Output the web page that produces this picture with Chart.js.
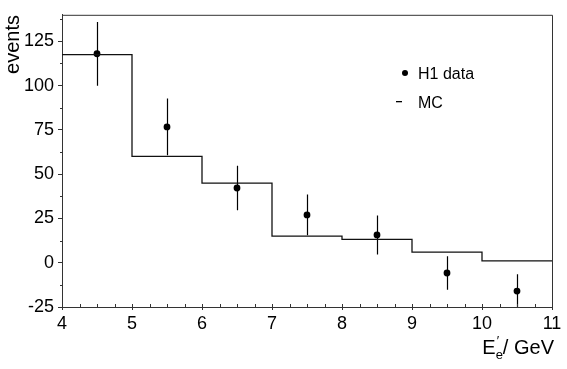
<!DOCTYPE html>
<html>
<head>
<meta charset="utf-8">
<script src="https://cdn.jsdelivr.net/npm/chart.js@4/dist/chart.umd.min.js"></script>
<style>
  html, body { margin: 0; padding: 0; background: #fff; }
  #plot { display: block; }
</style>
</head>
<body>
<canvas id="plot" width="567" height="369"></canvas>
<script>
// H1 data points (bin centres, values, errors)
const dataX = [4.5, 5.5, 6.5, 7.5, 8.5, 9.5, 10.5];
const dataY = [118, 76.7, 42.2, 27, 15.7, -5.8, -16];
const dataErr = [18, 16, 12.5, 11.5, 11, 9.5, 9.5];

// MC histogram (bin edges and contents)
const mcEdges = [4, 5, 6, 7, 8, 9, 10, 11];
const mcY = [117.5, 60, 45, 15, 13.2, 6, 1];

const yTicks = [-25, 0, 25, 50, 75, 100, 125];
const xTicks = [4, 5, 6, 7, 8, 9, 10, 11];

const FONT = '"Liberation Sans", Arial, Helvetica, sans-serif';

// step line: each lower edge carries its bin content, last edge repeats the last bin
const mcPoints = mcEdges.map((x, i) => ({ x: x, y: mcY[Math.min(i, mcY.length - 1)] }));
const dataPoints = dataX.map((x, i) => ({ x: x, y: dataY[i] }));

// error bars, minor ticks, frame, legend and axis titles
const extras = {
    id: 'extras',
    beforeDatasetsDraw(chart) {
        const { ctx, scales: { x, y }, chartArea } = chart;
        ctx.save();
        ctx.beginPath();
        ctx.rect(chartArea.left, chartArea.top, chartArea.right - chartArea.left, chartArea.bottom - chartArea.top);
        ctx.clip();
        ctx.strokeStyle = '#000';
        ctx.lineWidth = 1.2;
        dataX.forEach((v, i) => {
            const px = Math.round(x.getPixelForValue(v)) + 0.5;
            ctx.beginPath();
            ctx.moveTo(px, y.getPixelForValue(dataY[i] + dataErr[i]));
            ctx.lineTo(px, y.getPixelForValue(dataY[i] - dataErr[i]));
            ctx.stroke();
        });
        ctx.restore();
    },
    afterDraw(chart) {
        const { ctx, scales: { x, y }, chartArea } = chart;
        ctx.save();
        ctx.strokeStyle = '#333';
        ctx.lineWidth = 1;

        // frame top and right
        ctx.beginPath();
        ctx.moveTo(chartArea.left, chartArea.top + 0.5);
        ctx.lineTo(chartArea.right + 0.5, chartArea.top + 0.5);
        ctx.lineTo(chartArea.right + 0.5, chartArea.bottom);
        ctx.stroke();

        // y minor ticks
        for (let v = -25; v <= 140; v += 12.5) {
            if (v % 25 === 0) continue;
            const py = Math.round(y.getPixelForValue(v)) + 0.5;
            ctx.beginPath();
            ctx.moveTo(chartArea.left - 2, py);
            ctx.lineTo(chartArea.left, py);
            ctx.stroke();
        }
        // x ticks pointing up
        for (let v = 4; v <= 11.001; v += 0.25) {
            const px = Math.round(x.getPixelForValue(v)) + 0.5;
            ctx.beginPath();
            ctx.moveTo(px, chartArea.bottom);
            ctx.lineTo(px, chartArea.bottom - 3);
            ctx.stroke();
        }

        // legend
        ctx.fillStyle = '#000';
        ctx.font = '16px ' + FONT;
        ctx.textBaseline = 'alphabetic';
        ctx.beginPath();
        ctx.arc(405, 73, 3, 0, Math.PI * 2);
        ctx.fill();
        ctx.fillText('H1 data', 418, 79);
        ctx.fillRect(396, 101, 6, 1.3);
        ctx.fillText('MC', 418, 108);

        // y title
        ctx.font = '20px ' + FONT;
        ctx.save();
        ctx.translate(19, 15);
        ctx.rotate(-Math.PI / 2);
        ctx.textAlign = 'right';
        ctx.fillText('events', 0, 0);
        ctx.restore();

        // x title E'_e / GeV, right aligned at the frame edge
        ctx.textAlign = 'left';
        const base = 354;
        ctx.font = '20px ' + FONT;
        const wE = ctx.measureText('E').width;
        const wRest = ctx.measureText('/ GeV').width;
        ctx.font = '13px ' + FONT;
        const wSub = ctx.measureText('e').width;
        let tx = 554 - wE - wSub - wRest;
        ctx.font = '20px ' + FONT;
        ctx.fillText('E', tx, base);
        tx += wE;
        ctx.font = '13px ' + FONT;
        ctx.fillText('e', tx, base + 5);
        ctx.fillText('\u2032', tx + 1, base - 9);
        tx += wSub;
        ctx.font = '20px ' + FONT;
        ctx.fillText('/ GeV', tx, base);
        ctx.restore();
    }
};

new Chart(document.getElementById('plot'), {
    data: {
        datasets: [
            {
                type: 'line',
                label: 'MC',
                data: mcPoints,
                stepped: 'before',
                borderColor: '#111',
                borderWidth: 1.3,
                pointRadius: 0,
                fill: false,
            },
            {
                type: 'scatter',
                label: 'H1 data',
                data: dataPoints,
                pointRadius: 3.4,
                pointBackgroundColor: '#000',
                pointBorderColor: '#000',
                pointBorderWidth: 0,
            },
        ],
    },
    options: {
        responsive: false,
        animation: false,
        layout: { padding: { top: 14, right: 15, left: 0, bottom: 0 } },
        plugins: {
            legend: { display: false },
            tooltip: { enabled: false },
        },
        scales: {
            x: {
                type: 'linear',
                min: 4,
                max: 11,
                afterBuildTicks: (scale) => { scale.ticks = xTicks.map(v => ({ value: v })); },
                afterFit: (scale) => { scale.height = 62; },
                ticks: {
                    color: '#000',
                    font: { family: FONT, size: 18 },
                    padding: 3,
                    maxRotation: 0,
                },
                grid: { drawOnChartArea: false, tickLength: 3, color: '#333' },
                border: { color: '#333', width: 1 },
            },
            y: {
                type: 'linear',
                min: -25,
                max: 140,
                afterBuildTicks: (scale) => { scale.ticks = yTicks.map(v => ({ value: v })); },
                afterFit: (scale) => { scale.width = 62; },
                ticks: {
                    color: '#000',
                    font: { family: FONT, size: 18 },
                    padding: 4,
                },
                grid: { drawOnChartArea: false, tickLength: 4, color: '#333' },
                border: { color: '#333', width: 1 },
            },
        },
    },
    plugins: [extras],
});
</script>
</body>
</html>
